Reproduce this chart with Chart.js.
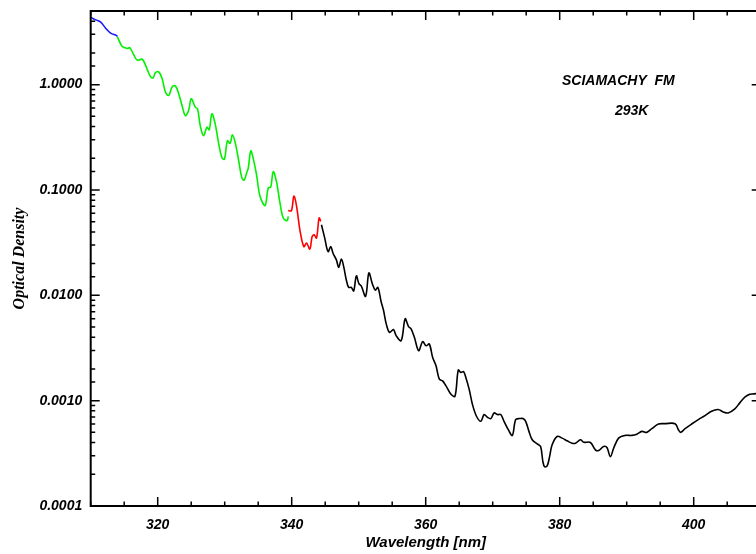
<!DOCTYPE html>
<html>
<head>
<meta charset="utf-8">
<script src="https://cdn.jsdelivr.net/npm/chart.js@4"></script>
<style>
  html, body { margin: 0; padding: 0; background: #fff; overflow: hidden; }
  #canva1 { display: block; }
</style>
</head>
<body>
<canvas id="canva1" width="768" height="554"></canvas>
<script>
// wavelength [nm] and optical density
let blueWl = [310.0, 310.74, 311.49, 312.23, 312.97, 313.87, 313.97];
let blueOd = [4.35, 4.12, 3.92, 3.43, 3.08, 2.92, 2.86];

let greenWl = [313.97, 314.71, 315.46, 315.84, 316.44, 316.94, 317.69, 318.18, 318.92, 319.32,
  319.66, 320.15, 320.66, 321.15, 321.64, 322.15, 322.64, 323.13, 323.63, 324.12,
  324.61, 325.01, 325.61, 325.95, 326.35, 326.84, 327.35, 327.69, 328.09, 328.58,
  329.07, 329.58, 329.96, 330.41, 330.81, 331.15, 331.56, 332.05, 332.55, 332.89,
  333.29, 333.53, 333.89, 334.28, 334.78, 335.27, 336.02, 336.51, 336.86, 337.25,
  337.76, 338.25, 338.74, 339.33, 339.48];
let greenOd = [2.86, 2.30, 2.21, 2.24, 1.91, 1.71, 1.74, 1.53, 1.19, 1.16,
  1.30, 1.32, 1.14, 0.851, 0.790, 0.951, 0.972, 0.820, 0.634, 0.508,
  0.568, 0.734, 0.612, 0.589, 0.408, 0.327, 0.394, 0.373, 0.528, 0.424,
  0.283, 0.203, 0.196, 0.293, 0.277, 0.334, 0.283, 0.196, 0.131, 0.124,
  0.146, 0.163, 0.235, 0.196, 0.136, 0.0873, 0.0711, 0.105, 0.106, 0.149,
  0.117, 0.0755, 0.0542, 0.0511, 0.0561];

let redWl = [339.48, 339.96, 340.33, 340.73, 341.22, 341.81, 342.22, 342.71, 343.05, 343.35,
  343.70, 344.09, 344.34];
let redOd = [0.0637, 0.0637, 0.0873, 0.0700, 0.0419, 0.0290, 0.0313, 0.0275, 0.0361, 0.0375,
  0.0349, 0.0542, 0.0503];

let blackWl = [344.44, 344.93, 345.43, 345.83, 346.17, 346.68, 347.02, 347.42, 347.76, 348.16,
  348.50, 348.90, 349.25, 349.65, 350.03, 350.39, 351.03, 351.52, 352.03, 352.47,
  352.86, 353.36, 353.71, 354.11, 354.60, 355.19, 355.59, 356.34, 356.93, 357.42,
  357.82, 358.31, 358.95, 359.55, 360.05, 360.54, 361.04, 361.54, 362.03, 362.52,
  363.03, 363.77, 364.37, 364.86, 365.26, 365.64, 366.00, 366.49, 366.98, 367.58,
  368.23, 368.72, 369.21, 369.72, 370.21, 370.70, 371.20, 371.69, 372.33, 372.93,
  373.43, 374.03, 374.52, 374.92, 375.41, 375.90, 376.65, 377.15, 377.49, 377.74,
  378.13, 378.49, 378.87, 379.62, 380.36, 381.10, 381.85, 382.35, 383.10, 383.59,
  384.58, 385.33, 385.82, 386.56, 387.05, 387.56, 388.05, 388.79, 389.79, 390.77,
  391.51, 392.26, 393.00, 393.74, 394.74, 395.73, 397.22, 397.71, 398.05, 398.71,
  399.69, 400.69, 401.68, 402.66, 403.66, 404.40, 405.14, 406.14, 406.88, 407.63,
  408.37, 409.01, 410.0];
let blackOd = [0.0468, 0.0349, 0.0260, 0.0290, 0.0251, 0.0216, 0.0184, 0.0221, 0.0187, 0.0139,
  0.0119, 0.0119, 0.0110, 0.0153, 0.0129, 0.0122, 0.00978, 0.0163, 0.0129, 0.0112,
  0.0119, 0.00863, 0.00718, 0.00536, 0.00445, 0.00473, 0.00414, 0.00371, 0.00598, 0.00508,
  0.00480, 0.00399, 0.00298, 0.00363, 0.00332, 0.00345, 0.00257, 0.00214, 0.00160, 0.00154,
  0.00138, 0.00115, 0.00110, 0.00195, 0.00185, 0.00189, 0.00165, 0.00128, 0.00092, 0.000711,
  0.000637, 0.000738, 0.000695, 0.000676, 0.000764, 0.000738, 0.000738, 0.000637, 0.000530, 0.000468,
  0.000661, 0.000676, 0.000676, 0.000637, 0.000511, 0.000425, 0.000389, 0.000367, 0.000264, 0.000236,
  0.000240, 0.000294, 0.000381, 0.000457, 0.000441, 0.000416, 0.000394, 0.000394, 0.000425, 0.000403,
  0.000401, 0.000341, 0.000336, 0.000367, 0.000359, 0.000294, 0.000353, 0.000441, 0.000468, 0.000468,
  0.000481, 0.000511, 0.000500, 0.000542, 0.000600, 0.000605, 0.000605, 0.000530, 0.000500, 0.000542,
  0.000600, 0.000661, 0.000721, 0.000794, 0.000824, 0.000782, 0.000764, 0.000836, 0.000953, 0.00108,
  0.00115, 0.00116, 0.00119];

let xTickLabels = ["320", "340", "360", "380", "400"];
let yTickLabels = ["0.0001", "0.0010", "0.0100", "0.1000", "1.0000"];
let annotationLines = ["SCIAMACHY  FM", "293K"];

function puntos(wl, od) {
    return wl.map(function(w, i){ return {x: w, y: od[i]}; });
}

function serie(wl, od, color) {
    return {
        data: puntos(wl, od),
        borderColor: color,
        borderWidth: 1.6,
        pointRadius: 0,
        tension: 0.35,
        fill: false
    };
}

let tickFont = {family: "'Liberation Sans', Arial, sans-serif", size: 14, style: "italic", weight: "bold"};

// IDL-style ticks pointing into the plot, plus the frame
let marcasInternas = {
    id: "marcasInternas",
    afterDraw: function(chart){
        let ctx = chart.ctx;
        let a = chart.chartArea;
        let sx = chart.scales.x;
        let sy = chart.scales.y;
        ctx.save();
        ctx.strokeStyle = "#000";
        ctx.lineWidth = 1.5;
        sx.ticks.forEach(function(t){
            let px = sx.getPixelForValue(t.value);
            let len = (Math.round(t.value) % 20 === 0) ? 9 : 4.5;
            ctx.beginPath();
            ctx.moveTo(px, a.bottom); ctx.lineTo(px, a.bottom - len);
            ctx.moveTo(px, a.top); ctx.lineTo(px, a.top + len);
            ctx.stroke();
        });
        sy.ticks.forEach(function(t){
            let py = sy.getPixelForValue(t.value);
            let lg = Math.log10(t.value);
            let len = (Math.abs(lg - Math.round(lg)) < 1e-6) ? 9 : 4.5;
            ctx.beginPath();
            ctx.moveTo(a.left, py); ctx.lineTo(a.left + len, py);
            ctx.moveTo(a.right, py); ctx.lineTo(a.right - len, py);
            ctx.stroke();
        });
        ctx.lineWidth = 2;
        ctx.strokeRect(a.left, a.top, a.right - a.left, a.bottom - a.top);
        ctx.fillStyle = "#000";
        ctx.font = "italic bold 14px 'Liberation Sans', Arial, sans-serif";
        ctx.textBaseline = "alphabetic";
        ctx.textAlign = "left";
        ctx.fillText(annotationLines[0], 562, 85);
        ctx.fillText(annotationLines[1], 615, 115);
        ctx.restore();
    }
};

window.onload = function(){
    let canva1 = document.getElementById("canva1").getContext("2d");
    let grafico = new Chart(canva1, {
        type: "line",
        data: {
            datasets: [
                serie(blueWl, blueOd, "#1a1aff"),
                serie(greenWl, greenOd, "#00f000"),
                serie(redWl, redOd, "#ff0000"),
                serie(blackWl, blackOd, "#000000")
            ]
        },
        options: {
            responsive: false,
            animation: false,
            devicePixelRatio: 1,
            layout: {padding: {top: 11, right: 7.3, left: 0, bottom: 0}},
            plugins: {legend: {display: false}, tooltip: {enabled: false}},
            scales: {
                x: {
                    type: "linear",
                    min: 310,
                    max: 410,
                    afterFit: function(s){ s.height = 48; s.paddingLeft = 0; s.paddingRight = 0; },
                    grid: {display: false, drawTicks: false},
                    border: {display: false},
                    ticks: {
                        stepSize: 5,
                        autoSkip: false,
                        maxRotation: 0,
                        padding: 11,
                        color: "#000",
                        font: tickFont,
                        callback: function(v){
                            let i = xTickLabels.indexOf(String(Math.round(v)));
                            return (Math.abs(v - Math.round(v)) < 1e-6 && i >= 0) ? xTickLabels[i] : "";
                        }
                    },
                    title: {
                        display: true,
                        text: "Wavelength [nm]",
                        color: "#000",
                        font: {family: "'Liberation Sans', Arial, sans-serif", size: 15, style: "italic", weight: "bold"},
                        padding: {top: 0, bottom: 2}
                    }
                },
                y: {
                    type: "logarithmic",
                    min: 0.0001,
                    max: 5,
                    afterFit: function(s){ s.width = 90.7; s.paddingTop = 0; s.paddingBottom = 0; },
                    grid: {display: false, drawTicks: false},
                    border: {display: false},
                    ticks: {
                        autoSkip: false,
                        padding: 8.5,
                        color: "#000",
                        font: tickFont,
                        callback: function(v){
                            let lg = Math.log10(v);
                            if (Math.abs(lg - Math.round(lg)) > 1e-6) return "";
                            let i = Math.round(lg) + 4;
                            return yTickLabels[i] || "";
                        }
                    },
                    title: {
                        display: true,
                        text: "Optical Density",
                        color: "#000",
                        font: {family: "'Liberation Serif', 'Times New Roman', serif", size: 16, style: "italic", weight: "bold"},
                        padding: {top: 10, bottom: 0}
                    }
                }
            }
        },
        plugins: [marcasInternas]
    });
}
</script>
</body>
</html>
